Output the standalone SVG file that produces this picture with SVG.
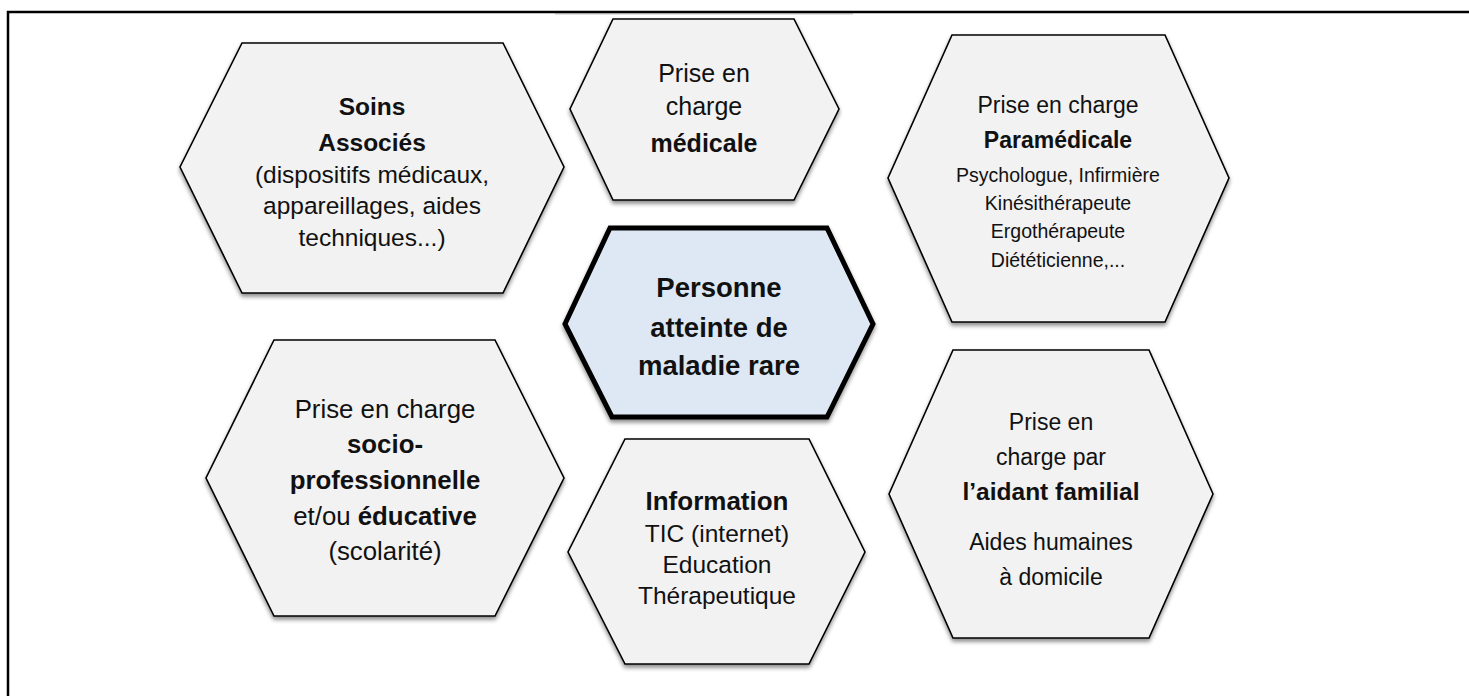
<svg xmlns="http://www.w3.org/2000/svg" width="1469" height="696" viewBox="0 0 1469 696">
<style>
.hex{fill:#f2f2f2;stroke:#000;stroke-width:1.6;stroke-linejoin:miter}
.core{fill:#dde8f4;stroke:#000;stroke-width:5;stroke-linejoin:miter}
text{font-family:"Liberation Sans",Arial,sans-serif;fill:#111;text-anchor:middle}
.b{font-weight:bold}
</style>
<defs>
<filter id="sh" x="-10%" y="-10%" width="120%" height="125%">
<feDropShadow dx="0" dy="3" stdDeviation="2" flood-color="#000" flood-opacity="0.45"/>
</filter>
</defs>
<rect width="1469" height="696" fill="#fff"/>
<g id="frame">
<path d="M8,696 V12 H1469" fill="none" stroke="#000" stroke-width="2.5"/>
<line x1="555" y1="13.8" x2="853" y2="13.8" stroke="#9a9a9a" stroke-width="1"/>
</g>
<g id="connectors"></g>
<g id="soins">
<polygon class="hex" filter="url(#sh)" points="242,43 503,43 564,167 503,293 242,293 180,167"/>
<text font-size="24.5"><tspan class="b" x="372" y="115">Soins</tspan><tspan class="b" x="372" y="151">Associés</tspan><tspan x="372" y="183">(dispositifs médicaux,</tspan><tspan x="372" y="214">appareillages, aides</tspan><tspan x="372" y="246">techniques...)</tspan></text>
</g>
<g id="medicale">
<polygon class="hex" filter="url(#sh)" points="613,19 794,19 839,109 794,200 613,200 570,109"/>
<text font-size="25"><tspan x="704" y="82">Prise en</tspan><tspan x="704" y="115">charge</tspan><tspan class="b" x="704" y="152">médicale</tspan></text>
</g>
<g id="paramedicale">
<polygon class="hex" filter="url(#sh)" points="952,35 1165,35 1229,178 1165,322 952,322 888,178"/>
<text font-size="23"><tspan x="1058" y="113">Prise en charge</tspan><tspan class="b" x="1058" y="148">Paramédicale</tspan></text>
<text font-size="19.5"><tspan x="1058" y="182">Psychologue, Infirmière</tspan><tspan x="1058" y="210">Kinésithérapeute</tspan><tspan x="1058" y="238">Ergothérapeute</tspan><tspan x="1058" y="267">Diététicienne,...</tspan></text>
</g>
<g id="personne">
<polygon class="core" filter="url(#sh)" points="610,228 827,228 873,324 827,417 612,417 565,324"/>
<text font-size="27.5" class="b"><tspan x="719" y="297">Personne</tspan><tspan x="719" y="337">atteinte de</tspan><tspan x="719" y="375">maladie rare</tspan></text>
</g>
<g id="socio">
<polygon class="hex" filter="url(#sh)" points="274,340 495,340 564,478 495,616 274,616 206,478"/>
<text font-size="25.8"><tspan x="385" y="418">Prise en charge</tspan><tspan class="b" x="385" y="453">socio-</tspan><tspan class="b" x="385" y="489">professionnelle</tspan><tspan x="385" y="525">et/ou <tspan class="b">éducative</tspan></tspan><tspan x="385" y="560">(scolarité)</tspan></text>
</g>
<g id="information">
<polygon class="hex" filter="url(#sh)" points="625,439 809,439 865,552 809,664 625,664 568,552"/>
<text font-size="24.5"><tspan class="b" x="717" y="510" font-size="26">Information</tspan><tspan x="717" y="542">TIC (internet)</tspan><tspan x="717" y="573">Education</tspan><tspan x="717" y="604">Thérapeutique</tspan></text>
</g>
<g id="aidant">
<polygon class="hex" filter="url(#sh)" points="953,350 1149,350 1213,494 1149,638 953,638 889,494"/>
<text font-size="23"><tspan x="1051" y="430">Prise en</tspan><tspan x="1051" y="465">charge par</tspan><tspan class="b" x="1051" y="500" font-size="24.5">l’aidant familial</tspan><tspan x="1051" y="550">Aides humaines</tspan><tspan x="1051" y="585">à domicile</tspan></text>
</g>
</svg>
